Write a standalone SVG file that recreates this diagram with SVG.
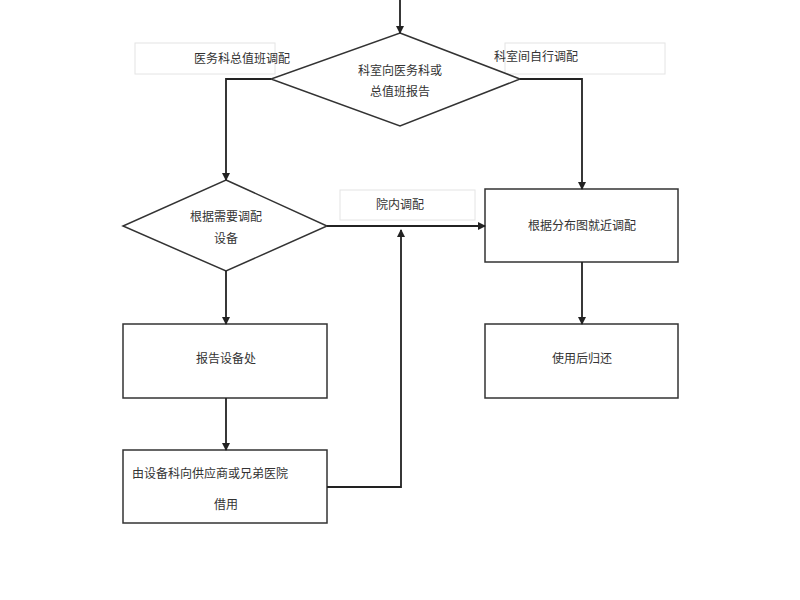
<svg xmlns="http://www.w3.org/2000/svg" width="800" height="600" viewBox="0 0 800 600">
<style>
.s{fill:#fff;stroke:#333;stroke-width:1.5}
.l{fill:#fff;stroke:#e4e4e4;stroke-width:1}
.c{fill:none;stroke:#222;stroke-width:1.8}
text{font-family:"Liberation Serif","Noto Sans CJK SC",serif;font-size:12px;fill:#333}
.m{text-anchor:middle}
</style>
<defs><marker id="a" markerWidth="8" markerHeight="8" refX="7" refY="4" orient="auto" markerUnits="userSpaceOnUse"><path d="M0,0L8,4L0,8z" fill="#222"/></marker></defs>
<rect width="800" height="600" fill="#fff"/>
<g id="lbl1"><rect class="l" x="135" y="43" width="140" height="31"/><text x="194" y="63">医务科总值班调配</text></g>
<g id="lbl2"><rect class="l" x="505" y="43" width="160" height="31"/></g>
<g id="d1"><polygon class="s" points="400,33 520,79 400,126 271,79"/><text class="m" x="400" y="75">科室向医务科或</text><text class="m" x="400" y="96">总值班报告</text></g>
<g id="lbl2t"><text x="494" y="61">科室间自行调配</text></g>
<g id="d2"><polygon class="s" points="226,180 327,226 226,271 123,226"/><text class="m" x="226" y="221">根据需要调配</text><text class="m" x="226" y="243">设备</text></g>
<g id="lbl3"><rect class="l" x="340" y="190" width="135" height="30"/><text class="m" x="400" y="209">院内调配</text></g>
<g id="b1"><rect class="s" x="485" y="189" width="193" height="73"/><text class="m" x="582" y="230">根据分布图就近调配</text></g>
<g id="b2"><rect class="s" x="123" y="324" width="204" height="74"/><text class="m" x="226" y="363">报告设备处</text></g>
<g id="b3"><rect class="s" x="485" y="324" width="193" height="74"/><text class="m" x="582" y="363">使用后归还</text></g>
<g id="b4"><rect class="s" x="123" y="450" width="204" height="73"/><text x="132" y="478">由设备科向供应商或兄弟医院</text><text class="m" x="226" y="509">借用</text></g>
<g id="connectors">
<path class="c" d="M400,0V33" marker-end="url(#a)"/>
<path class="c" d="M271,79H226V180" marker-end="url(#a)"/>
<path class="c" d="M520,79H582V189" marker-end="url(#a)"/>
<path class="c" d="M327,226H485" marker-end="url(#a)"/>
<path class="c" d="M226,271V324" marker-end="url(#a)"/>
<path class="c" d="M582,262V324" marker-end="url(#a)"/>
<path class="c" d="M226,398V450" marker-end="url(#a)"/>
<path class="c" d="M327,487H401V230" marker-end="url(#a)"/>
</g>
</svg>
